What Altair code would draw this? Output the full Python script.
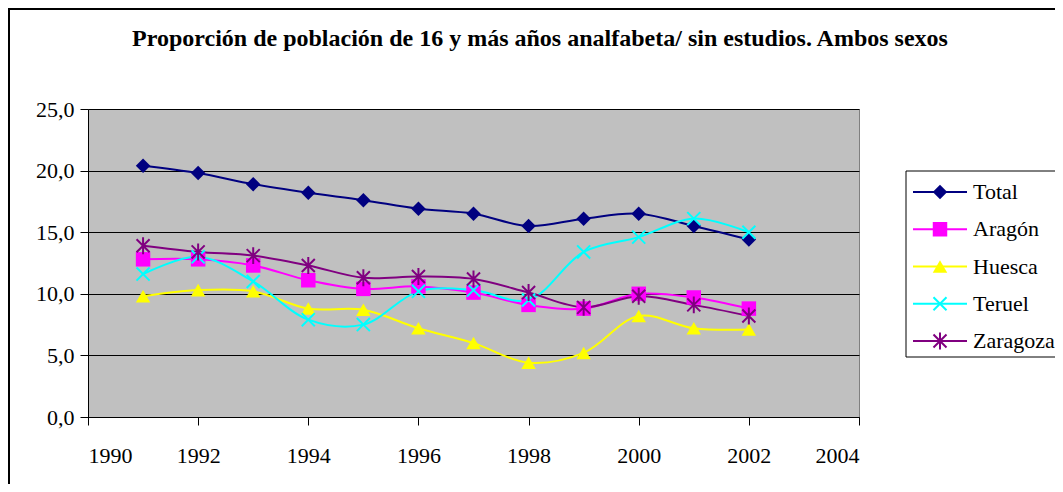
import altair as alt
import pandas as pd

years = list(range(1991, 2003))
series = ["Total", "Aragón", "Huesca", "Teruel", "Zaragoza"]
total = [20.4, 19.8, 18.9, 18.2, 17.6, 16.9, 16.5, 15.5, 16.1, 16.5, 15.5, 14.4]
aragon = [12.8, 12.8, 12.3, 11.1, 10.4, 10.6, 10.1, 9.1, 8.8, 10.0, 9.7, 8.8]
huesca = [9.8, 10.3, 10.2, 8.8, 8.7, 7.2, 6.0, 4.4, 5.2, 8.2, 7.2, 7.1]
teruel = [11.6, 13.0, 11.0, 7.9, 7.5, 10.2, 10.3, 9.5, 13.4, 14.6, 16.1, 15.0]
zaragoza = [13.9, 13.4, 13.1, 12.3, 11.3, 11.4, 11.2, 10.1, 8.9, 9.8, 9.1, 8.2]
colors = ["#000080", "#FF00FF", "#FFFF00", "#00FFFF", "#800080"]
x_ticks = list(range(1990, 2005, 2))
y_ticks = [0, 5, 10, 15, 20, 25]
title_text = "Proporción de población de 16 y más años analfabeta/ sin estudios. Ambos sexos"

X_PATH = "M-1,-1L1,1M-1,1L1,-1"
AST_PATH = "M-1,-1L1,1M-1,1L1,-1M0,-1.3L0,1.3"
shapes = ["diamond", "square", "triangle-up", X_PATH, AST_PATH]

rows = []
for name, vals in zip(series, [total, aragon, huesca, teruel, zaragoza]):
    for yr, v in zip(years, vals):
        rows.append({"year": yr, "series": name, "value": v})
df = pd.DataFrame(rows)
leg_df = pd.DataFrame({"series": series})
title_df = pd.DataFrame({"t": [title_text]})

FONT = "Liberation Serif"
FILLED_SIZE = 210
STROKE_SIZE = 170
LW = 2
color_scale = alt.Scale(domain=series, range=colors)
shape_scale = alt.Scale(domain=series, range=shapes)

x_enc = alt.X("year:Q", scale=alt.Scale(domain=[1990, 2004], nice=False, zero=False),
              axis=alt.Axis(values=x_ticks, format="d", title=None, grid=False,
                            tickSize=8, labelPadding=20, domainColor="black",
                            tickColor="black", labelFontSize=22, labelFont=FONT,
                            labelColor="black"))
y_enc = alt.Y("value:Q", scale=alt.Scale(domain=[0, 25], nice=False),
              axis=alt.Axis(values=y_ticks, title=None, grid=True, gridColor="black",
                            gridWidth=1, tickSize=8, labelPadding=6,
                            labelExpr="replace(format(datum.value, '.1f'), '.', ',')",
                            domainColor="black", tickColor="black", labelFontSize=22,
                            labelFont=FONT, labelColor="black"))

base = alt.Chart(df)

frame = alt.Chart(title_df).mark_rect(fill="transparent", stroke="black", strokeWidth=2).encode(
    x=alt.value(-79), x2=alt.value(1000), y=alt.value(-100), y2=alt.value(500))

title = alt.Chart(title_df).mark_text(font=FONT, fontSize=24, fontWeight="bold",
                                      align="center", baseline="alphabetic",
                                      color="black").encode(
    x=alt.value(452), y=alt.value(-63), text="t:N")

lines = base.mark_line(interpolate="catmull-rom", strokeWidth=LW).encode(
    x=x_enc, y=y_enc,
    color=alt.Color("series:N", scale=color_scale, legend=None),
    detail="series:N")

filled_pts = base.transform_filter(
    alt.FieldOneOfPredicate(field="series", oneOf=series[:3])
).mark_point(filled=True, size=FILLED_SIZE, opacity=1).encode(
    x=x_enc, y=y_enc,
    color=alt.Color("series:N", scale=color_scale, legend=None),
    shape=alt.Shape("series:N", scale=shape_scale, legend=None))

stroke_pts = base.transform_filter(
    alt.FieldOneOfPredicate(field="series", oneOf=series[3:])
).mark_point(filled=False, size=STROKE_SIZE, strokeWidth=LW, opacity=1).encode(
    x=x_enc, y=y_enc,
    color=alt.Color("series:N", scale=color_scale, legend=None),
    shape=alt.Shape("series:N", scale=shape_scale, legend=None))

main = alt.layer(lines, filled_pts, stroke_pts)

leg_y = alt.Y("series:N", scale=alt.Scale(domain=series, range=[83, 232], type="point", padding=0),
              axis=None)
leg_box = alt.Chart(title_df).mark_rect(fill="white", stroke="black", strokeWidth=1).encode(
    x=alt.value(818), x2=alt.value(1000), y=alt.value(62), y2=alt.value(248))
leg_lines = alt.Chart(leg_df).mark_rule(strokeWidth=LW).encode(
    x=alt.value(825), x2=alt.value(879), y=leg_y,
    color=alt.Color("series:N", scale=color_scale, legend=None))
leg_fill = alt.Chart(leg_df).transform_filter(
    alt.FieldOneOfPredicate(field="series", oneOf=series[:3])
).mark_point(filled=True, size=FILLED_SIZE, opacity=1).encode(
    x=alt.value(852), y=leg_y,
    color=alt.Color("series:N", scale=color_scale, legend=None),
    shape=alt.Shape("series:N", scale=shape_scale, legend=None))
leg_stroke = alt.Chart(leg_df).transform_filter(
    alt.FieldOneOfPredicate(field="series", oneOf=series[3:])
).mark_point(filled=False, size=STROKE_SIZE, strokeWidth=LW, opacity=1).encode(
    x=alt.value(852), y=leg_y,
    color=alt.Color("series:N", scale=color_scale, legend=None),
    shape=alt.Shape("series:N", scale=shape_scale, legend=None))
leg_text = alt.Chart(leg_df).mark_text(font=FONT, fontSize=22, align="left",
                                       baseline="middle", color="black").encode(
    x=alt.value(885), y=leg_y, text="series:N")
legend = alt.layer(leg_box, leg_lines, leg_fill, leg_stroke, leg_text)

chart = alt.layer(frame, title, main, legend).resolve_scale(
    y="independent"
).properties(
    width=771, height=308,
    autosize=alt.AutoSizeParams(type="none"),
    padding={"left": 80, "top": 101, "right": 196, "bottom": 67},
    background="white",
).configure_view(fill="#C0C0C0", stroke="#808080", strokeWidth=1)

chart.save("out.html", embed_options={"renderer": "svg", "actions": False})
